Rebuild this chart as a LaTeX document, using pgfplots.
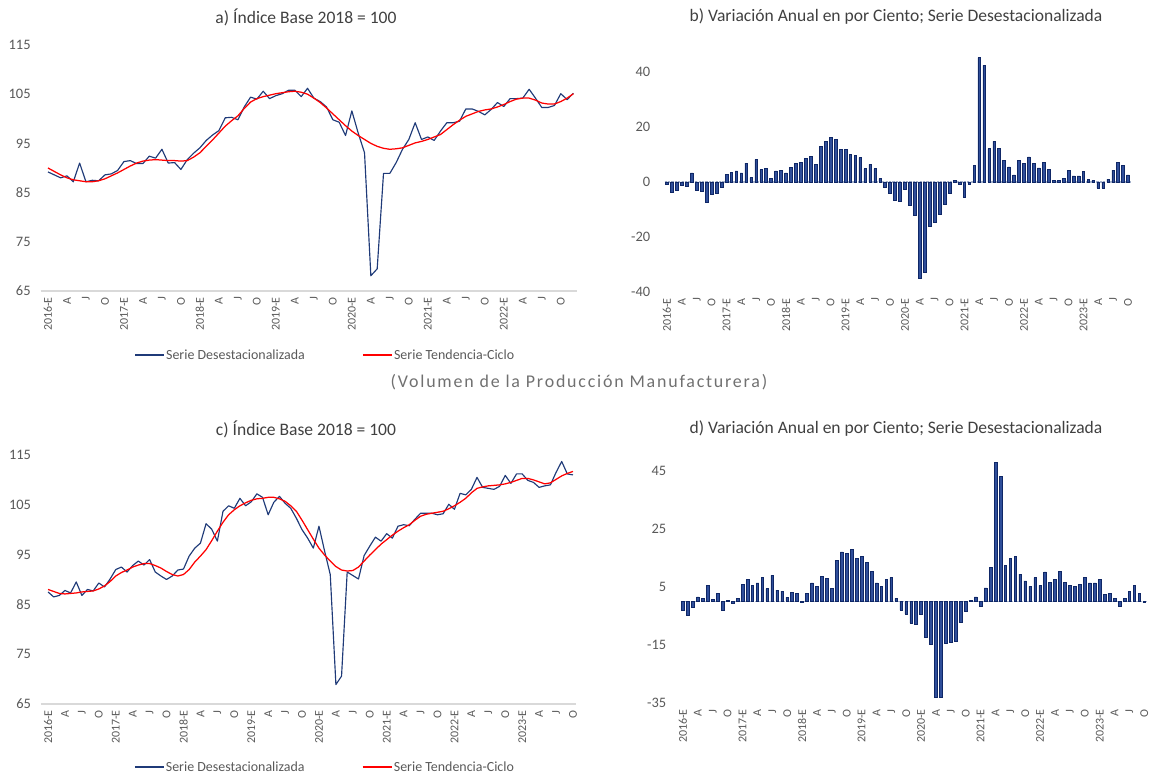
\documentclass[border=0pt]{standalone}
\usepackage{fontspec}
\setmainfont{Carlito}
\usepackage{pgfplots}
\pgfplotsset{compat=1.18}
\usepackage{pgfplotstable}
\definecolor{navy}{HTML}{1F3A78}
\definecolor{trend}{HTML}{FF0000}
\definecolor{barfill}{HTML}{2F4E9A}
\definecolor{barline}{HTML}{0F2766}
\definecolor{ticktxt}{HTML}{595959}
\definecolor{titletxt}{HTML}{404040}
\definecolor{axisgray}{HTML}{D9D9D9}
\definecolor{zeroline}{HTML}{A7B3CC}
\definecolor{midtitle}{HTML}{707070}
\newcommand\ytickfont{\fontsize{14.5}{16}\selectfont}
\newcommand\xtickfont{\fontsize{12}{14}\selectfont}
\newcommand\legfont{\fontsize{14}{16}\selectfont}
\newcommand\titlefont{\fontsize{17.6}{20}\selectfont}

\pgfplotstableread[row sep=\\]{
s t\\
89.2 90.0\\ 88.6 89.3\\ 88.0 88.6\\ 88.4 88.0\\ 87.2 87.6\\ 91.0 87.4\\ 87.2 87.2\\ 87.5 87.2\\ 87.4 87.4\\ 88.6 87.8\\
88.8 88.4\\ 89.5 89.0\\ 91.3 89.7\\ 91.5 90.4\\ 90.9 91.0\\ 90.9 91.4\\ 92.4 91.6\\ 92.0 91.7\\ 93.8 91.6\\ 91.0 91.5\\
91.1 91.5\\ 89.7 91.4\\ 91.7 91.5\\ 93.0 92.2\\ 94.1 93.1\\ 95.6 94.4\\ 96.7 95.7\\ 97.6 97.1\\ 100.2 98.5\\ 100.3 99.6\\
99.8 100.6\\ 102.4 102.1\\ 104.4 103.4\\ 104.0 104.1\\ 105.6 104.5\\ 104.1 104.8\\ 104.7 105.1\\ 105.1 105.3\\ 105.8 105.5\\ 105.8 105.6\\
104.5 105.4\\ 106.2 105.0\\ 104.2 104.2\\ 103.5 103.3\\ 102.4 102.2\\ 99.8 101.0\\ 99.3 99.8\\ 96.6 98.6\\ 101.6 97.5\\ 97.1 96.6\\
93.1 95.8\\ 68.1 95.0\\ 69.5 94.4\\ 88.9 94.0\\ 88.9 93.8\\ 91.1 93.9\\ 93.8 94.1\\ 95.8 94.6\\ 99.2 95.1\\ 95.8 95.4\\
96.3 95.8\\ 95.6 96.3\\ 97.5 96.8\\ 99.2 97.8\\ 99.2 98.8\\ 99.5 99.7\\ 102.0 100.5\\ 102.0 101.0\\ 101.5 101.5\\ 100.8 101.8\\
101.9 102.0\\ 103.3 102.4\\ 102.5 102.9\\ 104.1 103.5\\ 104.1 104.0\\ 104.2 104.2\\ 106.0 104.2\\ 104.2 103.8\\ 102.3 103.2\\ 102.3 103.0\\
102.7 103.0\\ 105.1 103.5\\ 103.9 104.2\\ 105.2 105.1\\
}\dataA

\pgfplotstableread[row sep=\\]{
v\\
-1.0\\ -3.6\\ -2.9\\ -1.2\\ -1.7\\ 3.3\\ -3.1\\ -3.4\\ -7.3\\ -4.6\\
-4.2\\ -1.8\\ 2.8\\ 3.6\\ 4.0\\ 3.3\\ 6.9\\ 1.6\\ 8.1\\ 4.5\\
4.8\\ 1.2\\ 4.0\\ 4.2\\ 3.3\\ 5.2\\ 6.9\\ 7.2\\ 8.5\\ 9.3\\
6.4\\ 13.0\\ 14.9\\ 16.1\\ 15.4\\ 11.8\\ 11.8\\ 10.1\\ 9.6\\ 8.8\\
4.8\\ 6.4\\ 4.8\\ 1.2\\ -1.9\\ -4.2\\ -6.5\\ -7.0\\ -2.8\\ -8.4\\
-12.0\\ -35.0\\ -33.0\\ -16.0\\ -14.8\\ -11.8\\ -8.2\\ -4.1\\ 0.5\\ -1.0\\
-5.5\\ -0.7\\ 6.1\\ 45.2\\ 42.4\\ 12.1\\ 14.8\\ 12.1\\ 7.9\\ 5.5\\
2.6\\ 7.9\\ 6.7\\ 9.1\\ 6.7\\ 5.1\\ 7.1\\ 4.6\\ 0.6\\ 0.6\\
1.4\\ 4.3\\ 2.2\\ 2.2\\ 3.8\\ 1.0\\ 0.6\\ -2.2\\ -2.2\\ 1.0\\
4.3\\ 7.1\\ 5.9\\ 2.6\\
}\dataB

\pgfplotstableread[row sep=\\]{
s t\\
87.5 88.0\\ 86.5 87.6\\ 86.8 87.2\\ 87.8 87.1\\ 87.3 87.2\\ 89.5 87.3\\ 86.8 87.5\\ 88.0 87.6\\ 87.7 87.7\\ 89.3 88.1\\
88.5 88.7\\ 90.1 89.6\\ 92.0 90.7\\ 92.5 91.4\\ 91.5 91.9\\ 92.8 92.5\\ 93.7 92.9\\ 92.9 93.2\\ 94.0 93.2\\ 91.5 92.8\\
90.7 92.3\\ 90.0 91.6\\ 90.7 91.0\\ 91.9 90.7\\ 92.1 91.0\\ 94.7 92.0\\ 96.3 93.5\\ 97.3 94.7\\ 101.2 96.0\\ 100.1 97.8\\
97.7 99.7\\ 103.7 101.5\\ 104.8 103.0\\ 104.3 104.0\\ 106.3 104.8\\ 104.8 105.4\\ 105.6 105.9\\ 107.2 106.2\\ 106.5 106.3\\ 103.0 106.5\\
105.5 106.5\\ 106.7 106.2\\ 105.3 105.7\\ 104.3 104.8\\ 102.3 103.7\\ 100.0 101.9\\ 98.3 100.0\\ 96.3 98.1\\ 100.7 96.3\\ 95.7 94.9\\
91.0 93.7\\ 68.9 92.6\\ 70.6 91.9\\ 91.5 91.7\\ 90.8 91.8\\ 90.1 92.5\\ 94.8 93.7\\ 96.7 94.9\\ 98.5 96.0\\ 97.7 97.1\\
99.2 98.0\\ 98.3 98.9\\ 100.7 99.7\\ 101.0 100.4\\ 100.8 101.0\\ 102.1 101.9\\ 103.3 102.7\\ 103.3 103.1\\ 103.3 103.3\\ 103.0 103.5\\
103.2 103.7\\ 105.1 104.2\\ 104.1 104.8\\ 107.3 105.5\\ 107.0 106.3\\ 108.1 107.4\\ 110.5 108.3\\ 108.5 108.6\\ 108.3 108.8\\ 108.1 108.9\\
108.7 109.0\\ 110.9 109.2\\ 109.3 109.5\\ 111.2 109.9\\ 111.2 110.3\\ 109.9 110.3\\ 109.5 110.0\\ 108.5 109.6\\ 108.8 109.2\\ 109.0 109.4\\
111.5 110.1\\ 113.7 110.8\\ 111.2 111.3\\ 111.0 111.7\\
}\dataC

\pgfplotstableread[row sep=\\]{
v\\
-3.0\\ -4.9\\ -2.1\\ 1.6\\ 1.1\\ 5.5\\ 0.8\\ 2.8\\ -3.0\\ 0.4\\
-0.7\\ 1.1\\ 5.8\\ 7.5\\ 5.6\\ 6.4\\ 8.2\\ 4.4\\ 9.0\\ 3.9\\
3.6\\ 1.4\\ 3.1\\ 2.9\\ -0.3\\ 2.9\\ 6.4\\ 5.2\\ 8.7\\ 7.9\\
4.4\\ 14.2\\ 17.1\\ 16.7\\ 17.9\\ 14.8\\ 15.6\\ 13.6\\ 10.5\\ 6.4\\
5.2\\ 7.5\\ 8.2\\ 1.1\\ -3.0\\ -4.3\\ -7.5\\ -7.8\\ -4.3\\ -12.3\\
-14.6\\ -33.1\\ -33.1\\ -14.4\\ -14.1\\ -13.7\\ -7.2\\ -3.4\\ 0.5\\ 1.6\\
-1.5\\ 4.7\\ 11.7\\ 47.9\\ 43.2\\ 12.5\\ 14.8\\ 15.6\\ 9.4\\ 7.1\\
5.2\\ 8.2\\ 5.6\\ 10.2\\ 6.7\\ 7.5\\ 10.5\\ 6.7\\ 5.6\\ 5.2\\
5.9\\ 8.2\\ 6.4\\ 6.4\\ 7.5\\ 2.5\\ 2.9\\ 1.0\\ -1.8\\ 1.0\\
3.6\\ 5.6\\ 2.9\\ -0.3\\
}\dataD

\pgfplotsset{
  basepanel/.style={
    scale only axis, clip=false,
    axis line style={draw=none},
    major tick length=0pt, tick style={draw=none},
    yticklabel style={font=\ytickfont, text=ticktxt, anchor=east, inner sep=0pt},
    yticklabel shift=14bp,
    xticklabel style={font=\xtickfont, text=ticktxt, rotate=90, anchor=east, inner sep=0pt},
    xticklabel shift=6bp,
  },
  linepanel/.style={
    basepanel,
    ymin=65, ymax=115, ytick={65,75,85,95,105,115},
    yticklabels={65,75,85,95,105,115},
    legend style={at={(0.527,-0.26)}, anchor=center, draw=none, fill=none,
      font=\legfont, text=ticktxt, legend columns=2, inner sep=0pt,
      nodes={inner sep=1.5bp},
      /tikz/every even column/.append style={column sep=56bp}},
    legend image code/.code={\draw[##1] (0bp,0bp) -- (29bp,0bp);},
  },
  barpanel/.style={
    basepanel,
    xmin=-0.5, xmax=93.5,
    xtick={0,3,...,93},
    xticklabels={2016-E,A,J,O,2017-E,A,J,O,2018-E,A,J,O,2019-E,A,J,O,2020-E,A,J,O,2021-E,A,J,O,2022-E,A,J,O,2023-E,A,J,O},
  },
  sline/.style={navy, line width=1.15bp, line join=round},
  tline/.style={trend, line width=1.25bp, line join=round},
  bars/.style={ybar, bar width=2.7bp, bar shift=0pt, fill=barfill, draw=barline, line width=0.6bp},
}

\begin{document}
\begin{tikzpicture}[x=1bp,y=1bp]
\path[use as bounding box] (0,0) rectangle (1158,774);

% ---------- a) ----------
\begin{axis}[linepanel, at={(44.8bp,483bp)}, anchor=south west,
  width=531.8bp, height=246bp,
  xmin=-0.5, xmax=83.5, xtick={0,3,...,81},
  xticklabels={2016-E,A,J,O,2017-E,A,J,O,2018-E,A,J,O,2019-E,A,J,O,2020-E,A,J,O,2021-E,A,J,O,2022-E,A,J,O}]
\draw[axisgray, line width=1.2bp] (rel axis cs:-0.008,0) -- (rel axis cs:1,0);
\addplot[sline] table[x expr=\coordindex, y=s] {\dataA};
\addlegendentry{Serie Desestacionalizada}
\addplot[tline] table[x expr=\coordindex, y=t] {\dataA};
\addlegendentry{Serie Tendencia-Ciclo}
\end{axis}

% ---------- b) ----------
\begin{axis}[barpanel, at={(664.5bp,482bp)}, anchor=south west,
  width=466bp, height=247.5bp,
  ymin=-40, ymax=50, ytick={-40,-20,0,20,40}, yticklabels={-40,-20,0,20,40}]
\draw[zeroline, line width=1.3bp, dash pattern=on 2.2bp off 1.2bp] (axis cs:-0.5,0) -- (axis cs:93.5,0);
\addplot[bars] table[x expr=\coordindex, y=v] {\dataB};
\end{axis}

% ---------- c) ----------
\begin{axis}[linepanel, at={(45.2bp,70bp)}, anchor=south west,
  width=530.6bp, height=249bp,
  xmin=-0.5, xmax=93.5, xtick={0,3,...,93},
  xticklabels={2016-E,A,J,O,2017-E,A,J,O,2018-E,A,J,O,2019-E,A,J,O,2020-E,A,J,O,2021-E,A,J,O,2022-E,A,J,O,2023-E,A,J,O},
  legend style={at={(0.527,-0.253)}}]
\draw[axisgray, line width=1.2bp] (rel axis cs:-0.008,0) -- (rel axis cs:1,0);
\addplot[sline] table[x expr=\coordindex, y=s] {\dataC};
\addlegendentry{Serie Desestacionalizada}
\addplot[tline] table[x expr=\coordindex, y=t] {\dataC};
\addlegendentry{Serie Tendencia-Ciclo}
\end{axis}

% ---------- d) ----------
\begin{axis}[barpanel, at={(680.5bp,71bp)}, anchor=south west,
  width=466.3bp, height=261bp,
  ymin=-35, ymax=55, ytick={-35,-15,5,25,45}, yticklabels={-35,-15,5,25,45}]
\draw[zeroline, line width=1.3bp, dash pattern=on 2.2bp off 1.2bp] (axis cs:-0.5,0) -- (axis cs:93.5,0);
\addplot[bars] table[x expr=\coordindex, y=v] {\dataD};
\end{axis}

% ---------- titles ----------
\node[font=\titlefont, text=titletxt] at (306,757) {a) Índice Base 2018 = 100};
\node[font=\titlefont, text=titletxt] at (896,757) {b) Variación Anual en por Ciento; Serie Desestacionalizada};
\node[font=\titlefont, text=titletxt] at (306,345) {c) Índice Base 2018 = 100};
\node[font=\titlefont, text=titletxt] at (896,345) {d) Variación Anual en por Ciento; Serie Desestacionalizada};
\node[font={\fontsize{18}{20}\selectfont\addfontfeature{LetterSpace=10}}, text=midtitle] at (579,392) {(Volumen de la Producción Manufacturera)};
\end{tikzpicture}
\end{document}
